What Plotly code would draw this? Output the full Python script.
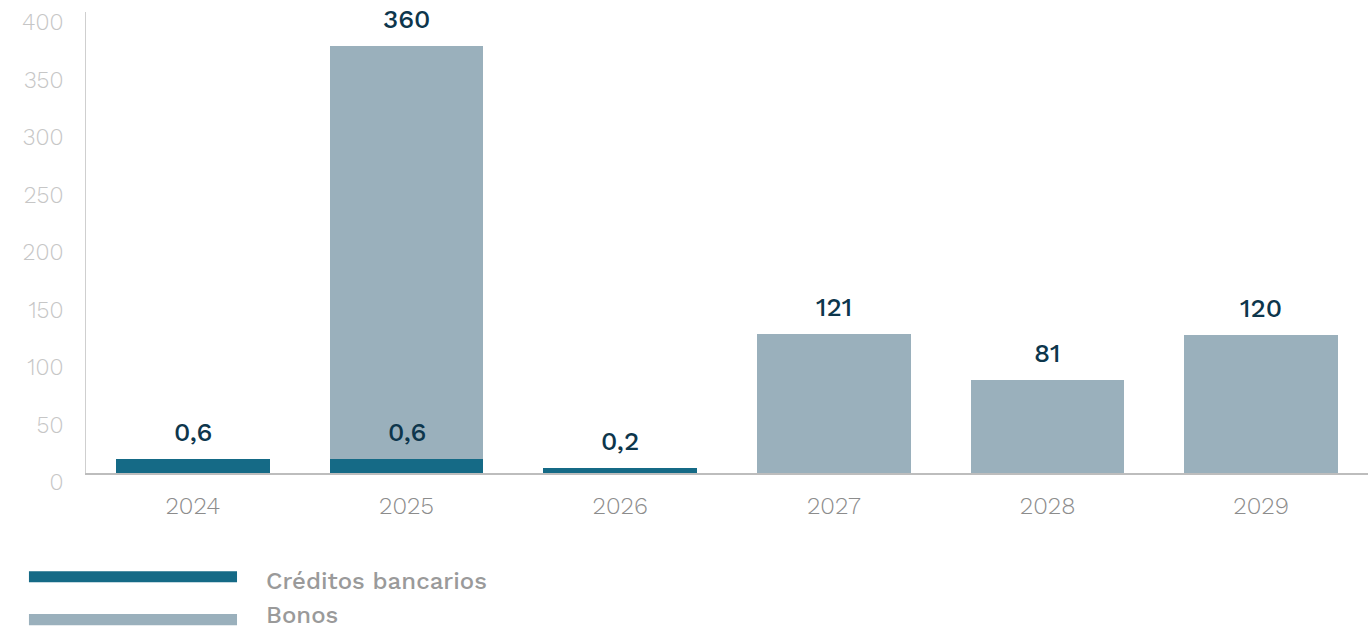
import plotly.graph_objects as go

years = ["2024", "2025", "2026", "2027", "2028", "2029"]
creditos = [12.5, 11.8, 4.3, 0, 0, 0]          # drawn heights (as pictured)
bonos = [0, 360, 0, 121, 81, 120]
label_text = ["0,6", "360", "0,2", "121", "81", "120"]
credit_label_2025 = "0,6"
yticks = [0, 50, 100, 150, 200, 250, 300, 350, 400]

C_CRED = "#156a86"
C_BONO = "#9ab0bc"
C_LAB = "#0d364c"
FONT = "Work Sans, Inter, Noto Sans, sans-serif"

fig = go.Figure()
fig.add_trace(go.Bar(x=years, y=creditos, name="Créditos bancarios",
                     marker=dict(color=C_CRED, line=dict(width=0))))
fig.add_trace(go.Bar(x=years, y=bonos, name="Bonos",
                     marker=dict(color=C_BONO, line=dict(width=0))))

totals = [c + b for c, b in zip(creditos, bonos)]
for i, (t, txt) in enumerate(zip(totals, label_text)):
    fig.add_annotation(x=i, y=t, text=txt, showarrow=False, yanchor="bottom",
                       yshift=10, font=dict(family=FONT, size=26, color=C_LAB, weight=500))
# second label for 2025 credit portion (drawn inside bonos bar)
fig.add_annotation(x=1, y=creditos[0], text=credit_label_2025, showarrow=False,
                   yanchor="bottom", yshift=10, font=dict(family=FONT, size=26, color=C_LAB, weight=500))

# custom legend
legend_items = [("Créditos bancarios", C_CRED, -0.213, -0.2348),
                ("Bonos", C_BONO, -0.306, -0.308)]
for name, col, yp, yt in legend_items:
    fig.add_shape(type="rect", xref="paper", yref="paper",
                  x0=-0.0445, x1=0.1178, y0=yp - 0.024, y1=yp,
                  fillcolor=col, line=dict(width=0))
    fig.add_annotation(xref="paper", yref="paper", x=0.1395, y=yt,
                       text=name, showarrow=False, xanchor="left", yanchor="middle",
                       borderpad=0,
                       font=dict(family=FONT, size=24, color="#9a9a9a", weight=500))

fig.update_layout(
    barmode="stack", bargap=0.28, showlegend=False,
    width=1371, height=629, autosize=False,
    margin=dict(l=86, r=3, t=12, b=156),
    plot_bgcolor="white", paper_bgcolor="white",
    font=dict(family=FONT),
)
fig.update_xaxes(type="category", range=[-0.5, 5.5], showline=True, linecolor="#bdbdbd",
                 linewidth=1.5, ticks="",
                 tickfont=dict(family=FONT, size=24, color="#8c8c8c", weight=300),
                 showgrid=False, ticklabelstandoff=10)
fig.update_yaxes(range=[0, 401], tickvals=yticks, showgrid=False, zeroline=False,
                 showline=True, linecolor="#cfcfcf", linewidth=1, ticks="",
                 tickfont=dict(family=FONT, size=23, color="#c6c6c6", weight=300),
                 ticklabelshift=9, ticklabelstandoff=17)

fig.write_html("out.html")
